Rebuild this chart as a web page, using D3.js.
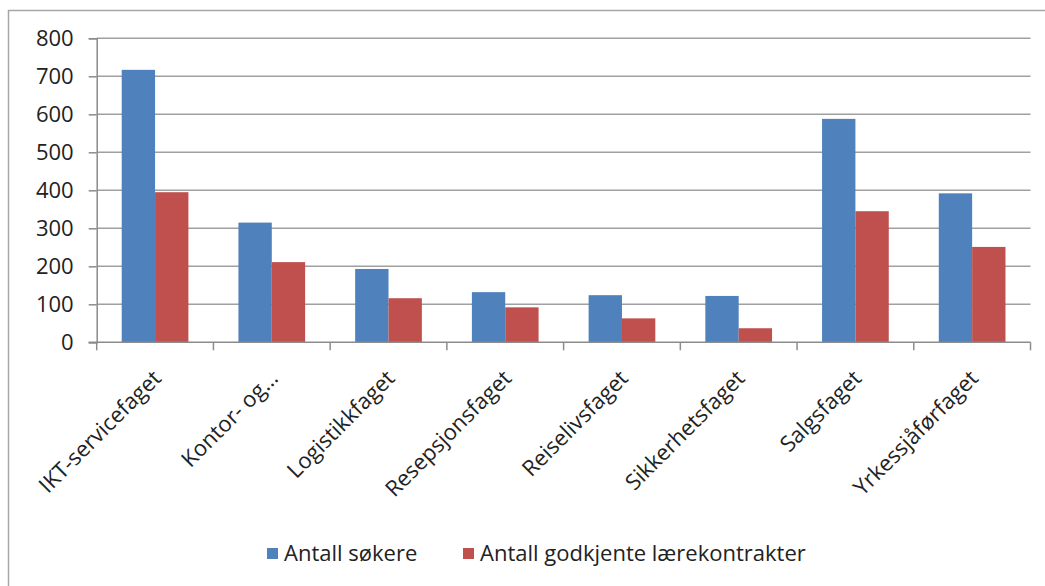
<!DOCTYPE html>
<html><head><meta charset="utf-8">
<script src="https://cdn.jsdelivr.net/npm/d3@7"></script>
<style>
html,body{margin:0;padding:0;background:#fff;}
svg text{font-family:"Open Sans",sans-serif;fill:#222;}
</style></head>
<body>
<svg id="chart" width="1045" height="586"></svg>
<script>
const categories = ["IKT-servicefaget","Kontor- og…","Logistikkfaget","Resepsjonsfaget","Reiselivsfaget","Sikkerhetsfaget","Salgsfaget","Yrkessjåførfaget"];
const seriesNames = ["Antall søkere","Antall godkjente lærekontrakter"];
const soekere = [717, 315, 193, 132, 124, 122, 588, 392];
const godkjente = [395, 211, 116, 92, 63, 37, 345, 251];
const yTicks = [0,100,200,300,400,500,600,700,800];
const colors = ["#4F81BD","#C0504D"];

(function(){
const svg = d3.select("#chart");
svg.append("rect").attr("width",1045).attr("height",586).attr("fill","#fff");
svg.append("rect").attr("x",8.5).attr("y",10.5).attr("width",1100).attr("height",700)
  .attr("fill","none").attr("stroke","#a6a6a6").attr("stroke-width",1.5);

const pL = 96.7, pR = 1030.5, pT = 38.3, pB = 342.3;
const x = d3.scaleBand().domain(categories).range([pL,pR]).paddingInner(0.4286).paddingOuter(0.2143);
const x1 = d3.scaleBand().domain([0,1]).range([0,x.bandwidth()]);
const y = d3.scaleLinear().domain([0,800]).range([pB,pT]);

svg.append("g").selectAll("line").data(yTicks.filter(d=>d>0)).join("line")
  .attr("x1",pL).attr("x2",pR).attr("y1",d=>y(d)).attr("y2",d=>y(d))
  .attr("stroke","#a0a0a0").attr("stroke-width",1.6);

const data = categories.map((c,i)=>({c, v:[soekere[i],godkjente[i]]}));
const g = svg.append("g").selectAll("g").data(data).join("g")
  .attr("transform",d=>`translate(${x(d.c)},0)`);
g.selectAll("rect").data(d=>d.v.map((v,k)=>({v,k}))).join("rect")
  .attr("x",d=>x1(d.k)).attr("width",x1.bandwidth())
  .attr("y",d=>y(d.v)).attr("height",d=>pB-y(d.v))
  .attr("fill",d=>colors[d.k]);

const yAxis = d3.axisLeft(y).tickValues(yTicks).tickSize(8).tickPadding(15);
const ya = svg.append("g").attr("transform",`translate(${pL},0)`).call(yAxis);
ya.selectAll("path,line").attr("stroke","#8c8c8c").attr("stroke-width",1.5);
ya.selectAll("text").style("font-size","22px").style("font-family","Open Sans").attr("fill","#222");

const xa = svg.append("g").attr("transform",`translate(0,${pB})`);
xa.append("line").attr("x1",pL-8).attr("x2",pR).attr("stroke","#8c8c8c").attr("stroke-width",1.5);
const bounds = categories.map(c=>x(c)-x.step()*x.paddingInner()/2).concat([pR]);
xa.selectAll("line.t").data(bounds).join("line").attr("class","t")
  .attr("x1",d=>d).attr("x2",d=>d).attr("y1",0).attr("y2",8)
  .attr("stroke","#8c8c8c").attr("stroke-width",1.5);
xa.selectAll("text").data(categories).join("text")
  .attr("transform",d=>`translate(${x(d)+x.bandwidth()/2+2},32) rotate(-45)`)
  .attr("text-anchor","end").attr("dy","0.35em")
  .style("font-size","22px").text(d=>d);

const legX = [267, 463];
const lg = svg.append("g").selectAll("g").data(seriesNames).join("g")
  .attr("transform",(d,i)=>`translate(${legX[i]},548)`);
lg.append("rect").attr("width",11).attr("height",11).attr("fill",(d,i)=>colors[i]);
lg.append("text").attr("x",17).attr("y",13).style("font-size","22px").text(d=>d);
})();
</script>
</body></html>
